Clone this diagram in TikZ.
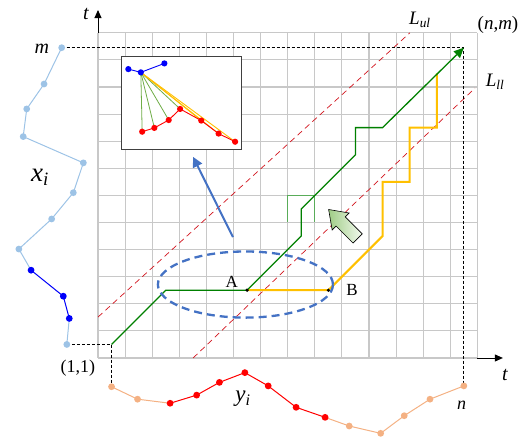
\documentclass[tikz,border=0pt]{standalone}
\usepackage{fontspec}
\setmainfont{Liberation Serif}
\usetikzlibrary{arrows.meta}
\definecolor{gridgray}{RGB}{200,200,200}
\definecolor{lightblue}{RGB}{157,195,230}
\definecolor{darkblue}{RGB}{0,0,250}
\definecolor{lightorange}{RGB}{244,177,131}
\definecolor{seriesred}{RGB}{255,0,0}
\definecolor{pathgreen}{RGB}{0,128,0}
\definecolor{pathgold}{RGB}{255,192,0}
\definecolor{bandred}{RGB}{210,20,30}
\definecolor{ellblue}{RGB}{68,114,196}
\definecolor{insetgreen}{RGB}{112,173,71}
\definecolor{insetframe}{RGB}{64,64,64}
\definecolor{arrowlight}{RGB}{242,249,238}
\definecolor{arrowdark}{RGB}{160,205,135}

\begin{document}
\begin{tikzpicture}[x=27.1pt,y=27.1pt,
  dot/.style={circle,inner sep=0pt,minimum size=6.8pt},
  insetdot/.style={circle,inner sep=0pt,minimum size=6.2pt},
  lbl/.style={inner sep=0pt,font=\fontsize{#1}{#1}\selectfont}]
  \useasboundingbox (-3.616,-2.915) rectangle (15.83,13.21);
  \foreach \i in {0,...,14} \draw[gridgray,line width=1.1pt] (\i,0) -- (\i,12);
  \foreach \j in {0,...,12} \draw[gridgray,line width=1.1pt] (0,\j) -- (14,\j);
  \path (0,12) coordinate (tv0) (0,12.84) coordinate (tv1) (14,0) coordinate (th0) (14.94,0) coordinate (th1);
  \draw[line width=.9pt,-{Triangle[length=8pt,width=7pt]}] (tv0) -- (tv1);
  \draw[line width=.9pt,-{Triangle[length=8pt,width=7pt]}] (th0) -- (th1);
  \node[lbl=20] (tvlabel) at (-0.44,12.69) {\textit{t}};
  \node[lbl=20] (thlabel) at (15.02,-0.63) {\textit{t}};

  \path (0,1.51) coordinate (ul0) (11.51,12) coordinate (ul1) (3.51,0) coordinate (ll0) (13.91,9.96) coordinate (ll1);
  \draw[bandred,line width=.7pt,dash pattern=on 6pt off 4pt] (ul0) -- (ul1) (ll0) -- (ll1);
  \node[lbl=19] (Lul) at (11.88,12.47) {\textit{L}\textsubscript{\textit{ul}}};
  \node[lbl=19] (Lll) at (14.65,10.18) {\textit{L}\textsubscript{\textit{ll}}};

  \draw[pathgreen!65,line width=.8pt] (7,5) -- (7,6) -- (8,6) -- (8,5);

  \foreach \n/\px/\py in {1/-1.15/0.5,2/-1.06/1.46,3/-1.28/2.28,4/-2.47/3.24,5/-2.92/4.02,6/-1.71/5.13,
    7/-0.91/6.10,8/-0.54/7.20,9/-2.76/8.17,10/-2.63/9.19,11/-1.99/10.11,12/-1.34/11.45}
    \coordinate (x\n) at (\px,\py);
  \foreach \n/\px/\py in {1/0.5/-1.06,2/1.46/-1.52,3/2.66/-1.67,4/3.64/-1.37,5/4.48/-0.90,6/5.42/-0.54,
    7/6.28/-1.03,8/7.31/-1.82,9/8.38/-2.19,10/9.27/-2.51,11/10.43/-2.78,12/11.30/-2.13,13/12.25/-1.52,14/13.5/-1.03}
    \coordinate (y\n) at (\px,\py);
  \path (0.5,0.5) coordinate (s11) (13.5,11.45) coordinate (nm);

  \draw[line width=.8pt,dash pattern=on 3pt off 2pt] (x12) -- (nm) -- (y14) (x1) -- (s11) -- (y1);

  \draw[lightblue,line width=1pt] (x1) -- (x2) (x4) -- (x5) -- (x6) -- (x7) -- (x8) -- (x9) -- (x10) -- (x11) -- (x12);
  \draw[darkblue,line width=1pt] (x2) -- (x3) -- (x4);
  \draw[lightorange,line width=1pt] (y1) -- (y2) -- (y3) (y9) -- (y10) -- (y11) -- (y12) -- (y13) -- (y14);
  \draw[seriesred,line width=1pt] (y3) -- (y4) -- (y5) -- (y6) -- (y7) -- (y8) -- (y9);
  \foreach \n in {1,5,6,7,8,9,10,11,12} \node[dot,fill=lightblue] at (x\n) {};
  \foreach \n in {2,3,4} \node[dot,fill=darkblue] at (x\n) {};
  \foreach \n in {1,2,10,11,12,13,14} \node[dot,fill=lightorange] at (y\n) {};
  \foreach \n in {3,...,9} \node[dot,fill=seriesred] at (y\n) {};

  \node[lbl=20] (mlabel) at (-2.07,11.4) {\textit{m}};
  \node[lbl=27] (xlabel) at (-2.14,6.68) {\textit{x}\textsubscript{\textit{i}}};
  \node[lbl=18] (startlabel) at (-0.74,-0.37) {(1,1)};
  \node[lbl=23] (ylabel) at (5.35,-1.5) {\textit{y}\textsubscript{\textit{i}}};
  \node[lbl=18] (nlabel) at (13.42,-1.73) {\textit{n}};
  \node[lbl=19] (endlabel) at (14.76,12.29) {(\textit{n},\textit{m})};

  \node[draw=insetframe,fill=white,line width=1.1pt,inner sep=0pt,minimum width=120pt,minimum height=93.2pt] (inset) at (3.085,9.42) {};
  \foreach \n/\px/\py in {1/1.12/10.66,2/1.58/10.54,3/2.45/10.87} \coordinate (ib\n) at (\px,\py);
  \foreach \n/\px/\py in {1/1.63/8.35,2/2.08/8.49,3/2.61/8.78,4/3.03/9.19,5/3.81/8.76,6/4.45/8.28,7/5.06/7.98}
    \coordinate (ir\n) at (\px,\py);
  \foreach \n in {1,...,4} \draw[insetgreen,line width=.8pt] (ib2) -- (ir\n);
  \foreach \n in {5,6,7} \draw[pathgold,line width=.9pt] (ib2) -- (ir\n);
  \draw[darkblue,line width=.9pt] (ib1) -- (ib2) -- (ib3);
  \draw[seriesred,line width=.9pt] (ir1) -- (ir2) -- (ir3) -- (ir4) -- (ir5) -- (ir6) -- (ir7);
  \foreach \n in {1,2,3} \node[insetdot,fill=darkblue] at (ib\n) {};
  \foreach \n in {1,...,7} \node[insetdot,fill=seriesred] at (ir\n) {};

  \path (5.5,2.5) coordinate (A) (8.5,2.5) coordinate (B);
  \path (2.5,2.5) coordinate (g1) (7.5,4.5) coordinate (g2) (7.5,5.5) coordinate (g3) (9.5,7.5) coordinate (g4)
    (9.5,8.5) coordinate (g5) (10.5,8.5) coordinate (g6);
  \path (10.5,4.5) coordinate (o1) (10.5,6.5) coordinate (o2) (11.5,6.5) coordinate (o3) (11.5,8.5) coordinate (o4)
    (12.5,8.5) coordinate (o5) (12.5,10.5) coordinate (o6);
  \draw[pathgold,line width=2pt] (A) -- (B) -- (o1) -- (o2) -- (o3) -- (o4) -- (o5) -- (o6);
  \draw[pathgreen,line width=1.3pt,-{Triangle[length=10pt,width=9pt]}] (s11) -- (g1) -- (A) -- (g2) -- (g3) -- (g4) -- (g5) -- (g6) -- (nm);
  \fill (A) circle (1.8pt) (B) circle (1.8pt);
  \node[lbl=17] (Alabel) at (4.94,2.8) {A};
  \node[lbl=17] (Blabel) at (9.37,2.51) {B};

  \draw[ellblue,line width=2.3pt,dash pattern=on 8pt off 5pt] (5.44,2.71) ellipse (3.23 and 1.22);
  \path (4.98,4.46) coordinate (zoomfrom) (3.51,7.42) coordinate (zoomto);
  \draw[ellblue,line width=2pt,-{Triangle[length=10pt,width=10pt]}] (zoomfrom) -- (zoomto);

  \begin{scope}[shift={(8.51,5.48)},rotate=135]
    \draw[line width=.6pt,left color=arrowdark,right color=arrowlight]
      (0pt,0pt) -- (-17pt,12pt) -- (-17pt,6.5pt) -- (-41pt,6.5pt) -- (-41pt,-6.5pt) -- (-17pt,-6.5pt) -- (-17pt,-12pt) -- cycle;
  \end{scope}
\end{tikzpicture}
\end{document}
